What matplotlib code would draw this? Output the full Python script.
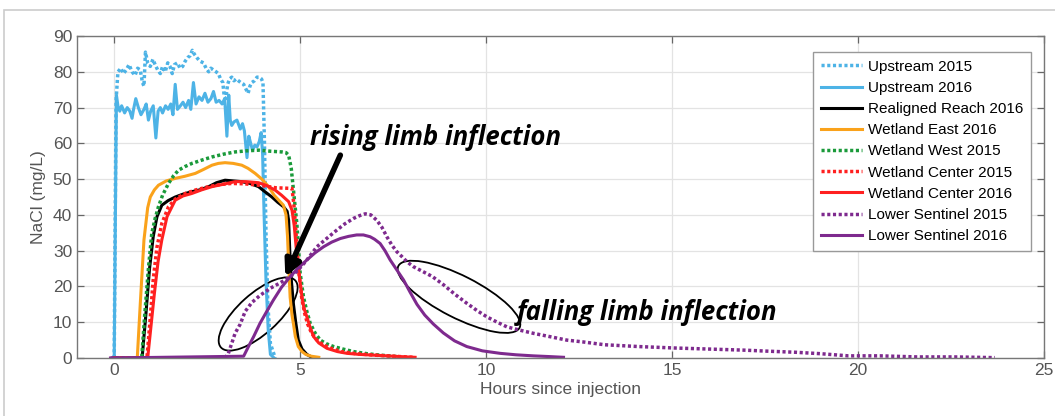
import matplotlib
matplotlib.use("Agg")
import matplotlib.pyplot as plt
from matplotlib.patches import Ellipse, Rectangle
from matplotlib.transforms import ScaledTranslation

# tracer breakthrough curves, NaCl concentration vs time since injection
up15_x = [0, 0.05, 0.1, 0.18, 0.25, 0.32, 0.4, 0.48, 0.56, 0.63, 0.7, 0.76, 0.8, 0.84, 0.9, 0.97, 1.04, 1.1, 1.17, 1.24,
          1.3, 1.37, 1.44, 1.5, 1.56, 1.62, 1.7, 1.77, 1.84, 1.91, 1.98, 2.04, 2.1, 2.15, 2.22, 2.3, 2.4, 2.47, 2.54, 2.6,
          2.67, 2.74, 2.8, 2.86, 2.92, 2.96, 3.0, 3.05, 3.1, 3.16, 3.22, 3.28, 3.34, 3.4, 3.48, 3.55, 3.6, 3.65, 3.7, 3.77,
          3.84, 3.9, 3.96, 4.0, 4.04, 4.08, 4.13, 4.2, 4.33]
up15_y = [0, 72, 80, 81, 79.5, 80.5, 82, 80, 79, 81, 80.5, 77, 76, 85.5, 82.5, 81.5, 83.5, 82, 80.5, 79.5,
          81.5, 80, 82.5, 81.5, 79.5, 82, 82.5, 81, 81.5, 83, 84, 84.5, 86, 85, 84, 83, 82.5, 81, 80, 81,
          80.5, 80, 79.5, 78, 77, 73, 72.5, 76.5, 78, 78.5, 77.5, 78, 77.5, 77, 76.5, 75, 74, 76, 77, 77.5,
          78.5, 78.5, 78, 77, 60, 35, 15, 4, 0]

up16_x = [0, 0.06, 0.1, 0.15, 0.2, 0.28, 0.35, 0.42, 0.48, 0.52, 0.58, 0.65, 0.72, 0.8, 0.86, 0.92, 0.98, 1.05, 1.12,
          1.18, 1.24, 1.3, 1.38, 1.45, 1.52, 1.58, 1.64, 1.7, 1.78, 1.85, 1.92, 2.0, 2.06, 2.13, 2.2, 2.28, 2.36, 2.44,
          2.52, 2.6, 2.67, 2.74, 2.82, 2.9, 2.97, 3.03, 3.08, 3.12, 3.16, 3.22, 3.3, 3.39, 3.45, 3.5, 3.57, 3.62, 3.67,
          3.72, 3.78, 3.84, 3.9, 3.95, 3.99, 4.03, 4.08, 4.14, 4.2, 4.3]
up16_y = [0, 73.5, 70.5, 69, 70.5, 68.5, 70, 69, 67, 69.5, 72.5, 70, 68, 69.5, 71, 66.5, 69, 70.5, 61.5,
          69, 70, 68.5, 70.5, 69.5, 71, 68, 76.5, 69.5, 70.5, 71.5, 70, 72, 69.5, 77, 71, 73, 72, 74,
          71.5, 72.5, 74.5, 71.5, 72, 71, 72.5, 62, 73.5, 66.5, 65, 66, 66.5, 64, 65.5, 63.5, 56, 62, 60,
          58, 59.5, 59, 60.5, 63, 57, 40, 22, 8, 1, 0]

reach16_x = [0, 0.75, 0.85, 0.95, 1.05, 1.15, 1.28, 1.45, 1.64, 1.85, 2.09, 2.3, 2.54, 2.75, 2.98, 3.2, 3.43, 3.65,
             3.88, 4.05, 4.24, 4.4, 4.55, 4.65, 4.69, 4.72, 4.76, 4.82, 4.88, 4.95, 5.05, 5.18, 5.3]
reach16_y = [0, 0, 12, 25, 34, 39.5, 42.7, 44, 45, 45.8, 46.5, 47, 47.9, 49, 49.7, 49.5, 49.3, 48.8,
             47.9, 46.5, 45, 43.5, 42.3, 41, 38.5, 30, 22, 15, 10, 5, 2.5, 1, 0.3]

east16_x = [0, 0.62, 0.7, 0.8, 0.9, 0.97, 1.08, 1.19, 1.4, 1.64, 1.9, 2.18, 2.4, 2.63, 2.8, 2.98, 3.2, 3.43, 3.6,
            3.79, 3.97, 4.15, 4.3, 4.46, 4.55, 4.62, 4.66, 4.7, 4.73, 4.78, 4.82, 4.87, 4.95, 5.05, 5.15, 5.3, 5.5]
east16_y = [0, 0, 15, 33, 42, 45, 47, 48.3, 49.5, 50.2, 50.8, 51.6, 52.7, 53.9, 54.4, 54.6, 54.4, 53.9, 53,
            51.6, 50, 47.9, 45.5, 43.7, 42.7, 40, 34, 24, 17, 12, 9.5, 6, 3.2, 1.8, 1, 0.5, 0.2]

west15_x = [0, 0.74, 0.82, 0.92, 1.01, 1.1, 1.19, 1.3, 1.46, 1.6, 1.73, 1.9, 2.09, 2.35, 2.63, 2.95, 3.25, 3.55,
            3.88, 4.2, 4.51, 4.62, 4.69, 4.76, 4.82, 4.91, 5.0, 5.09, 5.18, 5.27, 5.4, 5.54, 5.7, 5.9, 6.15, 6.43,
            6.8, 7.15, 7.6]
west15_y = [0, 0, 12, 25, 34.8, 39, 42.3, 45.5, 48.8, 51, 52.5, 53.5, 54.4, 55.3, 56.2, 57, 57.6, 57.9,
            58.1, 57.8, 57.6, 57.4, 56.7, 53, 46.9, 37.6, 23.7, 17, 13, 9.7, 7, 5, 4, 3.2, 2.5, 1.8,
            1.2, 0.8, 0.4]

center15_x = [0, 0.88, 0.96, 1.05, 1.15, 1.28, 1.46, 1.65, 1.91, 2.2, 2.54, 2.85, 3.16, 3.5, 3.88, 4.1, 4.33, 4.55,
              4.78, 4.83, 4.87, 4.92, 4.97, 5.04, 5.12, 5.2, 5.31, 5.45, 5.6, 5.8, 6.1, 6.5, 7.0, 7.5, 8.05]
center15_y = [0, 0, 10, 22, 31, 37.6, 42.3, 44.5, 46, 47, 47.9, 48.5, 48.8, 48.7, 48.3, 48, 47.6, 47.5,
              47.4, 43, 37.6, 30, 23.7, 17, 12.5, 9.5, 6.9, 5, 3.8, 2.8, 1.8, 1.2, 0.8, 0.5, 0.2]

center16_x = [0, 0.9, 0.98, 1.08, 1.18, 1.28, 1.42, 1.64, 1.85, 2.09, 2.35, 2.63, 2.95, 3.25, 3.55, 3.88, 4.1, 4.33,
              4.5, 4.69, 4.78, 4.84, 4.9, 4.95, 5.0, 5.05, 5.1, 5.18, 5.27, 5.36, 5.5, 5.72, 6.0, 6.26, 6.6, 6.97,
              7.5, 8.09]
center16_y = [0, 0, 8, 18, 27, 33, 39.5, 44.1, 45.3, 46, 47, 47.9, 48.6, 49.3, 49.3, 49, 48.2, 46.9,
              45.5, 43.7, 41.3, 37, 30, 25, 21, 17, 14, 11.5, 8.5, 6, 4.2, 2.7, 1.8, 1.3, 1, 0.8,
              0.5, 0.2]

lower15_x = [-0.1, 2.98, 3.07, 3.25, 3.39, 3.52, 3.7, 3.92, 4.2, 4.46, 4.7, 4.91, 5.15, 5.45, 5.7, 5.99, 6.2, 6.43,
             6.6, 6.75, 6.9, 7.06, 7.2, 7.33, 7.47, 7.6, 7.75, 7.87, 8.05, 8.31, 8.55, 8.85, 9.15, 9.48, 9.75,
             10.02, 10.3, 10.56, 10.9, 11.27, 11.7, 12.17, 12.6, 13.19, 14.1, 15.06, 16.0, 16.93, 17.6, 18.33,
             19.0, 19.74, 20.6, 21.6, 22.6, 23.68]
lower15_y = [0, 0, 1.3, 6.9, 9.5, 13, 15.5, 17.5, 19.5, 21, 22.5, 24.2, 27, 31.1, 33.3, 35.8, 37.5, 39,
             39.8, 40.3, 40, 38.5, 36.5, 33.9, 31.5, 29.7, 28.2, 26.9, 25.5, 24.1, 22.8, 20.5, 17.9, 15.3, 13.3,
             11.5, 10, 8.7, 7.8, 6.9, 6, 5, 4.5, 3.7, 3.2, 2.8, 2.5, 2.2, 1.9, 1.6,
             1.2, 0.6, 0.6, 0.3, 0.3, 0.1]

lower16_x = [-0.1, 3.48, 3.6, 3.75, 3.92, 4.1, 4.28, 4.5, 4.73, 4.95, 5.18, 5.4, 5.63, 5.85, 6.08, 6.3, 6.52, 6.7,
             6.88, 7.0, 7.15, 7.28, 7.42, 7.6, 7.78, 7.95, 8.14, 8.35, 8.58, 8.85, 9.15, 9.48, 9.9, 10.38, 10.8,
             11.27, 11.7, 12.08]
lower16_y = [0, 0.5, 3, 6, 9.7, 13, 16.2, 19.8, 22.7, 25.2, 27.4, 29.4, 31.1, 32.4, 33.4, 34, 34.4, 34.4,
             33.9, 33.2, 32, 30, 27.4, 24.6, 21.8, 18.5, 15, 12, 9.5, 7, 4.8, 3.2, 2, 1.3, 0.9,
             0.6, 0.4, 0.2]

blue = "#4DB3E6"
orange = "#FAA21B"
green = "#1A9A3A"
red = "#FF2020"
purple = "#7E2A8E"

series = [
    (up15_x, up15_y, blue, ":", "Upstream 2015"),
    (up16_x, up16_y, blue, "-", "Upstream 2016"),
    (reach16_x, reach16_y, "black", "-", "Realigned Reach 2016"),
    (east16_x, east16_y, orange, "-", "Wetland East 2016"),
    (west15_x, west15_y, green, ":", "Wetland West 2015"),
    (center15_x, center15_y, red, ":", "Wetland Center 2015"),
    (center16_x, center16_y, red, "-", "Wetland Center 2016"),
    (lower15_x, lower15_y, purple, ":", "Lower Sentinel 2015"),
    (lower16_x, lower16_y, purple, "-", "Lower Sentinel 2016"),
]

plt.rcParams["font.family"] = ["Liberation Sans", "DejaVu Sans"]

fig = plt.figure(figsize=(10.55, 4.16), dpi=100)
ax = fig.add_axes([0.073, 0.1394, 0.9166, 0.774])

dotted = (0, (0.9, 0.75))
for xs, ys, c, ls, lab in series:
    if ls == ":":
        ax.plot(xs, ys, color=c, linestyle=dotted, linewidth=2.5, label=lab)
    else:
        ax.plot(xs, ys, color=c, linestyle="-", linewidth=2.2, label=lab)

ax.set_xlim(-1, 25)
ax.set_ylim(0, 90)
ax.set_xticks([0, 5, 10, 15, 20, 25])
ax.set_yticks(range(0, 91, 10))
ax.grid(True, color="#e3e3e3", linewidth=0.9)
ax.set_axisbelow(True)
ax.tick_params(direction="in", length=5, width=0.9, colors="#666666", labelsize=12.5,
               top=True, right=True, labelcolor="#555555")
for sp in ax.spines.values():
    sp.set_color("#777777")
    sp.set_linewidth(1.0)
ax.set_xlabel("Hours since injection", fontsize=12.5, color="#555555", labelpad=3)
ax.set_ylabel("NaCl (mg/L)", fontsize=12.5, color="#555555", labelpad=5)

leg = ax.legend(loc="upper right", bbox_to_anchor=(0.9866, 0.95), borderaxespad=0, fontsize=11,
                fancybox=False, framealpha=1, edgecolor="#999999", labelspacing=0.47,
                handlelength=2.7, handletextpad=0.4, borderpad=0.5)
leg.get_frame().set_linewidth(1.0)

# hand-drawn style annotations
anno_font = dict(family=["Open Sans", "DejaVu Sans"], weight="bold", style="italic", color="black")
ax.text(5.27, 61.5, "rising limb inflection", fontsize=18.5, va="center", ha="left", **anno_font)
ax.text(10.83, 12.8, "falling limb inflection", fontsize=18.5, va="center", ha="left", **anno_font)
ax.annotate("", xy=(4.6, 22.7), xytext=(6.08, 56.7),
            arrowprops=dict(arrowstyle="-|>", color="black", lw=4, mutation_scale=24,
                            shrinkA=0, shrinkB=0))

# ellipses sized in pixels, centred in data coordinates
for cx, cy, w, h, ang in [(3.87, 12.3, 100, 40, 42), (9.27, 17.1, 136, 42, -27)]:
    e = Ellipse((0, 0), w, h, angle=ang, fill=False, edgecolor="black", linewidth=1.3,
                transform=ScaledTranslation(cx, cy, ax.transData))
    ax.add_patch(e)

fig.patches.append(Rectangle((4 / 1055, -0.1), 1.1, (416 - 10) / 416 + 0.1, transform=fig.transFigure,
                             fill=False, edgecolor="#cccccc", linewidth=1.2))

fig.savefig("out.png", dpi=100)
